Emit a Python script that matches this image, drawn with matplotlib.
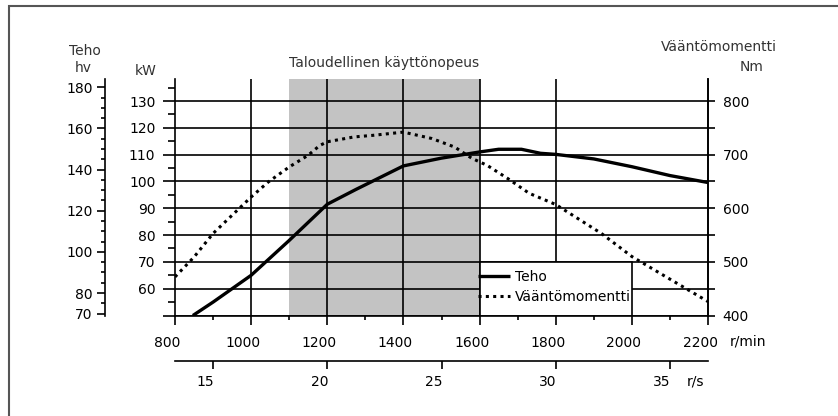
import matplotlib
matplotlib.use('Agg')
import matplotlib.pyplot as plt
import matplotlib.transforms as mtransforms
from matplotlib.patches import Rectangle
from matplotlib.ticker import MultipleLocator, FixedLocator

######################################################
# values

power_rpm = [847, 900, 950, 1000, 1100, 1200, 1275, 1400, 1500, 1600, 1650,
             1710, 1760, 1800, 1900, 2000, 2100, 2200]
power_kw = [50, 55, 60, 65, 78, 91.5, 97, 105.8, 108.7, 111, 112,
            112, 110.5, 110.1, 108.4, 105.5, 102.2, 99.6]

torque_rpm = [800, 850, 900, 950, 1000, 1045, 1100, 1150, 1180, 1200, 1270,
              1320, 1400, 1475, 1535, 1580, 1620, 1675, 1730, 1800, 1920,
              2000, 2090, 2200]
torque_nm = [472, 509, 553, 587, 621, 649, 677, 699, 717, 724, 733,
             736, 742, 730, 714, 693, 680, 655, 628, 607, 553,
             510, 472, 426]

rpm_ticks = [800, 1000, 1200, 1400, 1600, 1800, 2000, 2200]
rpm_grid = [1000, 1200, 1400, 1600, 1800]
rps_ticks = [15, 20, 25, 30, 35]
kw_ticks = [50, 60, 70, 80, 90, 100, 110, 120, 130]
kw_labels = ['', '60', '70', '80', '90', '100', '110', '120', '130']
hv_ticks = [70, 80, 100, 120, 140, 160, 180]
nm_ticks = [400, 500, 600, 700, 800]
nm_minor = [450, 550, 650, 750]

eco_range = (1100, 1600)      # taloudellinen käyttönopeus
legend_box = (1600, 2000, 50, 70)

######################################################

plt.rcParams['font.family'] = 'DejaVu Sans'
plt.rcParams['font.size'] = 10

W, H = 838, 416
fig = plt.figure(figsize=(W / 100, H / 100), dpi=100)

def fx(px):
    return px / W

def fy(py):
    return 1 - py / H

left, right, top, bottom = 175, 708, 79.3, 315.5
ax = fig.add_axes([fx(left), fy(bottom), fx(right - left), (bottom - top) / H])
ax.set_xlim(800, 2200)
ax.set_ylim(50, 138.1)

lw = 1.2
tc = 'black'

# shading + grid
ax.axvspan(eco_range[0], eco_range[1], color='#c3c3c3', lw=0, zorder=0.2)
ax.set_axisbelow(True)
ax.grid(axis='y', color=tc, lw=lw)
ax.vlines(rpm_grid, 0, 1, transform=ax.get_xaxis_transform(), color=tc, lw=lw, zorder=0.6)

# white box behind the legend
x0, x1, y0, y1 = legend_box
ax.add_patch(Rectangle((x0, y0), x1 - x0, y1 - y0, facecolor='white',
                       edgecolor=tc, lw=lw, zorder=2.5))

l_power, = ax.plot(power_rpm, power_kw, color='black', lw=2.4, zorder=3,
                   solid_capstyle='butt', label='Teho')

ax.spines['top'].set_visible(False)
for s in ['left', 'right', 'bottom']:
    ax.spines[s].set_linewidth(lw)

ax.set_xticks(rpm_ticks)
ax.xaxis.set_minor_locator(MultipleLocator(100))
ax.tick_params(axis='x', which='major', length=6.5, width=lw, pad=8, labelsize=10)
ax.tick_params(axis='x', which='minor', length=3, width=lw)
ax.set_yticks(kw_ticks, kw_labels)
ax.yaxis.set_minor_locator(MultipleLocator(5))
ax.tick_params(axis='y', which='major', length=8.6, width=lw, pad=5.5, labelsize=10)
ax.tick_params(axis='y', which='minor', length=5, width=lw)

off = mtransforms.ScaledTranslation(-0.08, 0, fig.dpi_scale_trans)
for lab in ax.get_xticklabels():
    lab.set_transform(lab.get_transform() + off)

# torque axis on the right
ax_nm = ax.twinx()
ax_nm.set_ylim(400, 400 + (138.1 - 50) * 5)
for s in ['top', 'left', 'bottom']:
    ax_nm.spines[s].set_visible(False)
ax_nm.spines['right'].set_linewidth(lw)
ax_nm.set_yticks(nm_ticks)
ax_nm.yaxis.set_minor_locator(FixedLocator(nm_minor))
ax_nm.tick_params(axis='y', which='both', length=5, width=lw, pad=5.5, labelsize=10)

l_torque, = ax_nm.plot(torque_rpm, torque_nm, color='black', lw=2.2,
                       linestyle=(0, (1, 1.4)), zorder=3, label='Vääntömomentti')

# horsepower axis, further left
ax_hv = ax.twinx()
ax_hv.set_ylim(69.1, 183.9)
for s in ['top', 'right', 'bottom']:
    ax_hv.spines[s].set_visible(False)
ax_hv.spines['left'].set_visible(True)
ax_hv.spines['left'].set_position(('axes', -(left - 105) / (right - left)))
ax_hv.spines['left'].set_linewidth(lw)
ax_hv.yaxis.set_ticks_position('left')
ax_hv.yaxis.set_label_position('left')
ax_hv.set_yticks(hv_ticks)
ax_hv.yaxis.set_minor_locator(MultipleLocator(5))
ax_hv.tick_params(axis='y', which='major', length=5.8, width=lw, pad=3.2, labelsize=10)
ax_hv.tick_params(axis='y', which='minor', length=3, width=lw)

# r/s scale below
sec = ax.secondary_xaxis(-(361 - bottom) / (bottom - top),
                         functions=(lambda x: x / 60, lambda x: x * 60))
sec.set_xticks(rps_ticks)
sec.spines['bottom'].set_linewidth(lw)
sec.tick_params(axis='x', length=6, width=lw, pad=4, labelsize=10)
for lab in sec.get_xticklabels():
    lab.set_transform(lab.get_transform() + off)

leg = ax_nm.legend(handles=[l_power, l_torque], loc='upper left',
                   bbox_to_anchor=(fx(478), fy(270)), bbox_transform=fig.transFigure,
                   frameon=False, borderaxespad=0, borderpad=0,
                   handlelength=2.3, handletextpad=0.35, labelspacing=0.43,
                   fontsize=10)

# header texts
hc = '#333333'
fig.text(fx(85), fy(51), 'Teho', ha='center', va='center', color=hc)
fig.text(fx(83), fy(68), 'hv', ha='center', va='center', color=hc)
fig.text(fx(146), fy(71), 'kW', ha='center', va='center', color=hc)
fig.text(fx(384), fy(63.5), 'Taloudellinen käyttönopeus', ha='center', va='center', color=hc)
fig.text(fx(777), fy(47), 'Vääntömomentti', ha='right', va='center', color=hc)
fig.text(fx(763), fy(67), 'Nm', ha='right', va='center', color=hc)
fig.text(fx(730), fy(341.7), 'r/min', ha='left', va='center')
fig.text(fx(687), fy(381.7), 'r/s', ha='left', va='center')

# outer frame (runs off the bottom and right of the picture)
fig.patches.append(Rectangle((fx(9), fy(430)), fx(850 - 9), (430 - 6) / H,
                             transform=fig.transFigure, fill=False,
                             edgecolor='#555555', lw=1.5))

fig.savefig('out.png', dpi=100)
